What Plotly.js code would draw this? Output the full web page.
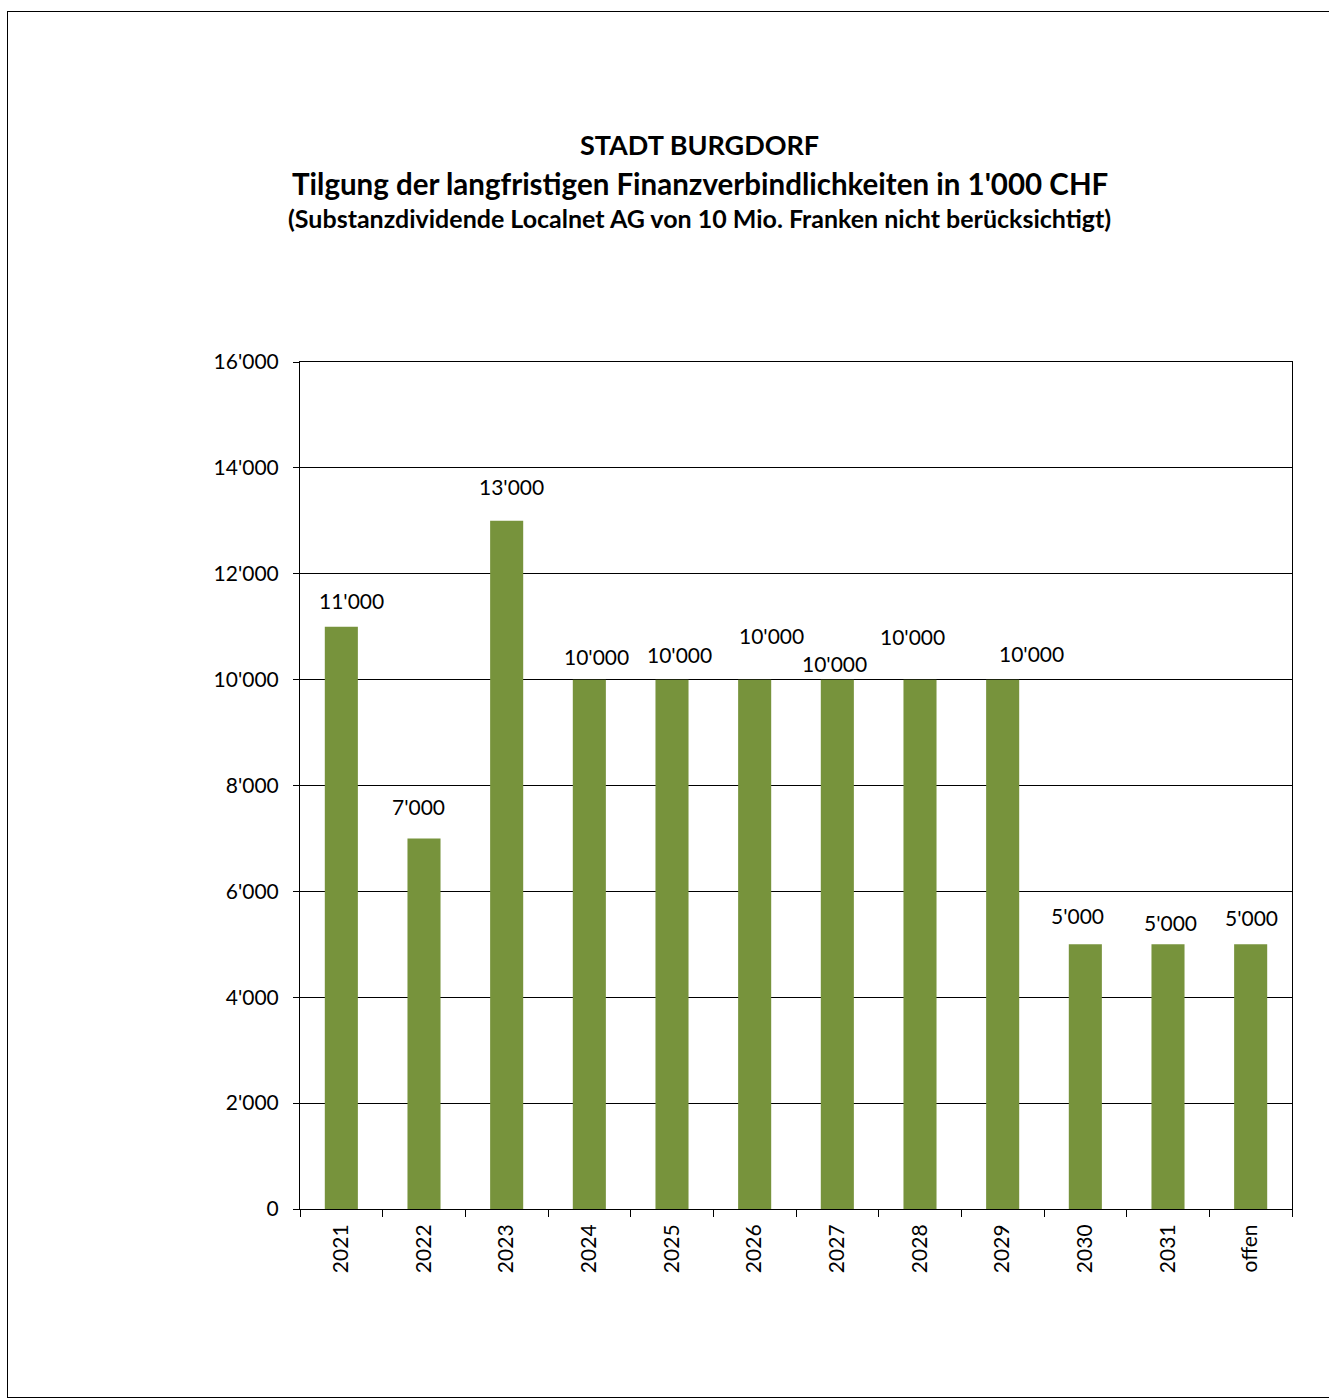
<!DOCTYPE html>
<html><head><meta charset="utf-8">
<script src="https://cdn.plot.ly/plotly-3.0.1.min.js"></script>
<style>
html,body{margin:0;padding:0;background:#fff;overflow:hidden;}
#chart{position:absolute;left:0;top:0;width:1329px;height:1398px;}
#frame{position:absolute;left:7px;top:11px;width:1340px;height:1385px;border:1px solid #000;pointer-events:none;}
</style></head>
<body>
<div id="chart"></div>
<div id="frame"></div>
<script>
const categories = ['2021','2022','2023','2024','2025','2026','2027','2028','2029','2030','2031','offen'];
const values = [11000, 7000, 13000, 10000, 10000, 10000, 10000, 10000, 10000, 5000, 5000, 5000];
const valueLabels = ["11'000","7'000","13'000","10'000","10'000","10'000","10'000","10'000","10'000","5'000","5'000","5'000"];
const yTickVals = [0, 2000, 4000, 6000, 8000, 10000, 12000, 14000, 16000];
const yTickText = ["0","2'000","4'000","6'000","8'000","10'000","12'000","14'000","16'000"];
// label pixel offsets (styling only)
const labelDx = [10, -6, 5, 7, 7, 17, -3, -8, 29, -8, 2, 1];
const labelDy = [26, 32, 34, 23, 25, 44, 16, 43, 26, 29, 22, 27];

const FONT = 'Lato, "Open Sans", sans-serif';

const annotations = categories.map((c, i) => ({
  x: i, y: values[i], xref: 'x', yref: 'y',
  text: valueLabels[i], showarrow: false,
  xanchor: 'center', yanchor: 'middle',
  xshift: labelDx[i], yshift: labelDy[i],
  font: {family: FONT, size: 21, color: '#000'}
}));
annotations.push(
  {xref:'paper', yref:'paper', x:0.403, y:1.2562, text:'<b>STADT BURGDORF</b>', showarrow:false, xanchor:'center', yanchor:'middle', font:{family:FONT, size:27, color:'#000'}},
  {xref:'paper', yref:'paper', x:0.403, y:1.2113, text:"<b>Tilgung der langfristigen Finanzverbindlichkeiten in 1'000 CHF</b>", showarrow:false, xanchor:'center', yanchor:'middle', font:{family:FONT, size:29.5, color:'#000'}},
  {xref:'paper', yref:'paper', x:0.403, y:1.170, text:'<b>(Substanzdividende Localnet AG von 10 Mio. Franken nicht berücksichtigt)</b>', showarrow:false, xanchor:'center', yanchor:'middle', font:{family:FONT, size:25, color:'#000'}}
);

const trace = {
  type: 'bar', x: categories, y: values,
  marker: {color: '#77933C', line: {width: 0}},
  hoverinfo: 'skip'
};

const layout = {
  width: 1329, height: 1398,
  margin: {l: 300, r: 37, t: 362, b: 189, pad: 0},
  paper_bgcolor: '#fff', plot_bgcolor: '#fff',
  bargap: 0.6,
  showlegend: false,
  font: {family: FONT, size: 21, color: '#000'},
  xaxis: {
    type: 'category', tickangle: -90,
    range: [-0.5, categories.length - 0.5], autorange: false,
    ticks: 'outside', ticklen: 7, tickcolor: '#000', tickwidth: 1,
    tickson: 'boundaries', ticklabelstandoff: 6,
    showline: true, linecolor: '#000', linewidth: 1, mirror: true,
    showgrid: false,
    tickfont: {family: FONT, size: 21, color: '#000'}
  },
  yaxis: {
    range: [0, 16000], autorange: false, tickvals: yTickVals, ticktext: yTickText,
    ticks: 'outside', ticklen: 6, tickcolor: '#000', tickwidth: 1,
    ticklabelstandoff: 10,
    showline: true, linecolor: '#000', linewidth: 1, mirror: true,
    showgrid: true, gridcolor: '#000', gridwidth: 1,
    zeroline: false,
    tickfont: {family: FONT, size: 21, color: '#000'}
  },
  annotations: annotations
};

Plotly.newPlot('chart', [trace], layout, {staticPlot: true, displayModeBar: false});
</script>
</body></html>
